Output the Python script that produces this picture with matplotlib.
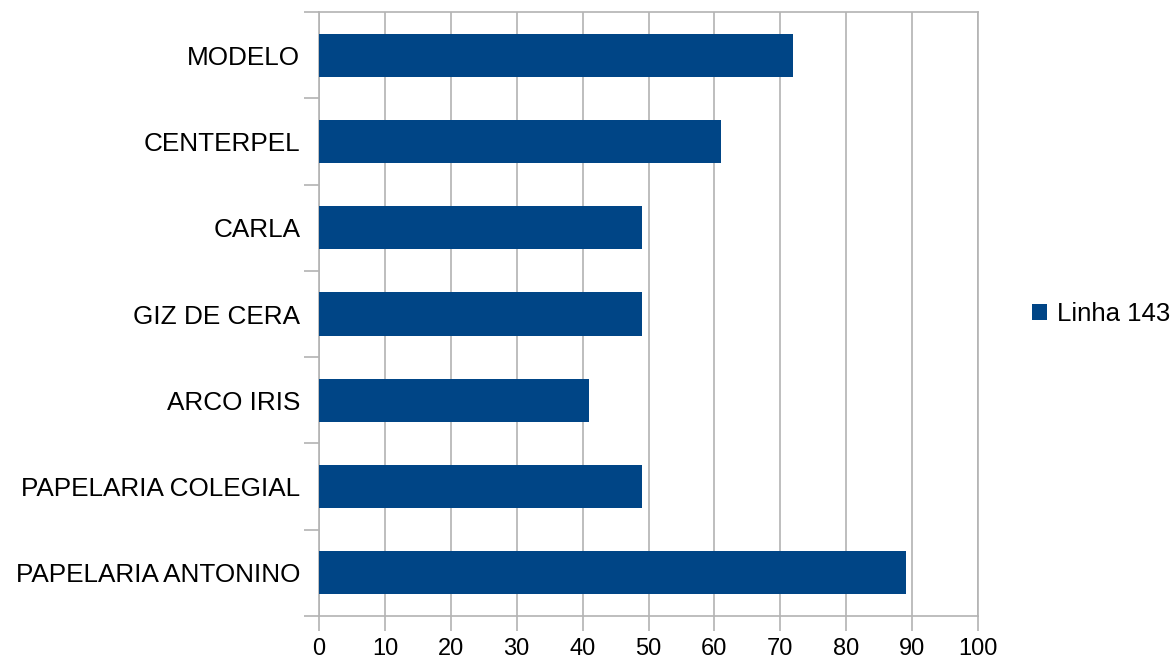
import numpy as np
import matplotlib.pyplot as plt

plt.rcParams['font.family'] = ['Liberation Sans', 'DejaVu Sans']

categorias = ["PAPELARIA ANTONINO", "PAPELARIA COLEGIAL", "ARCO IRIS",
              "GIZ DE CERA", "CARLA", "CENTERPEL", "MODELO"]
valores = [89, 49, 41, 49, 49, 61, 72]
serie = "Linha 143"

cor_barra = "#004586"
cor_grade = "#b3b3b3"

fig = plt.figure(figsize=(11.73, 6.61), dpi=100)
ax = fig.add_axes([319 / 1173, 45 / 661, 659 / 1173, 604 / 661])

y = np.arange(len(categorias))
ax.barh(y, valores, height=0.5, color=cor_barra, label=serie, zorder=3)

ax.set_xlim(0, 100)
ax.set_ylim(-0.5, len(categorias) - 0.5)
ax.set_xticks(np.arange(0, 101, 10))
ax.set_yticks(y)
ax.set_yticklabels(categorias)
# ticks on category boundaries
ax.set_yticks(np.arange(-0.5, len(categorias), 1), minor=True)
ax.tick_params(axis='y', which='major', length=0, pad=13.5, labelsize=18.8)
ax.tick_params(axis='y', which='minor', length=11, color=cor_grade, width=1.2)
ax.tick_params(axis='x', length=11, color=cor_grade, width=1.2, labelsize=17, pad=5)

ax.grid(axis='x', color=cor_grade, linewidth=1.2, zorder=0)
for s in ax.spines.values():
    s.set_color(cor_grade)
    s.set_linewidth(1.2)

ax.legend(loc='center left', bbox_to_anchor=(1.066, 0.5), frameon=False,
          fontsize=18.5, handlelength=0.6, handleheight=0.6, handletextpad=0.4,
          borderaxespad=0)

fig.savefig("out.png", dpi=100)
